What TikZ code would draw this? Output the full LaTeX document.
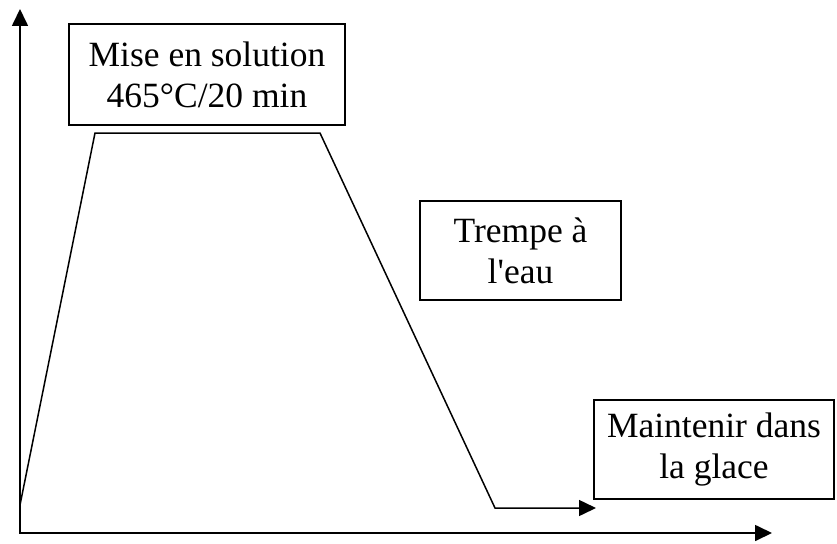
\documentclass[tikz,border=0pt]{standalone}
\usepackage{fontspec}
\setmainfont{Liberation Serif}
\usetikzlibrary{arrows.meta}
\tikzset{
  etape/.style={draw, line width=1.6pt, align=center, inner sep=0pt,
    font=\fontsize{35.5}{41}\selectfont},
  fleche/.style={-{Triangle[length=17pt,width=16pt]}},
}

\begin{document}
\begin{tikzpicture}[x=1pt, y=-1pt]
	\useasboundingbox (0,0) rectangle (837,543);
	% axes
	\coordinate (O) at (20,533);
	\coordinate (yfin) at (20,9);
	\coordinate (xfin) at (772,533);
	\draw[line width=1.7pt, {Triangle[length=17pt,width=16pt]}-{Triangle[length=17pt,width=16pt]}] (yfin) -- (O) -- (xfin);
	% cycle thermique
	\coordinate (depart) at (20,505);
	\coordinate (palierA) at (95,133);
	\coordinate (palierB) at (320,133);
	\coordinate (bas) at (495,508);
	\coordinate (fin) at (596,508);
	\draw[fleche, line width=1.5pt] (depart) -- (palierA) -- (palierB) -- (bas) -- (fin);
	% etapes
	\node[etape, minimum width=276pt, minimum height=101pt] (solution) at (207,74.5) {Mise en solution\\465°C/20 min};
	\node[etape, minimum width=201pt, minimum height=99pt] (trempe) at (520.5,250.5) {Trempe à\\l\textquotesingle eau};
	\node[etape, minimum width=240pt, minimum height=99pt] (glace) at (714,449.5) {Maintenir dans\\la glace};
\end{tikzpicture}
\end{document}
